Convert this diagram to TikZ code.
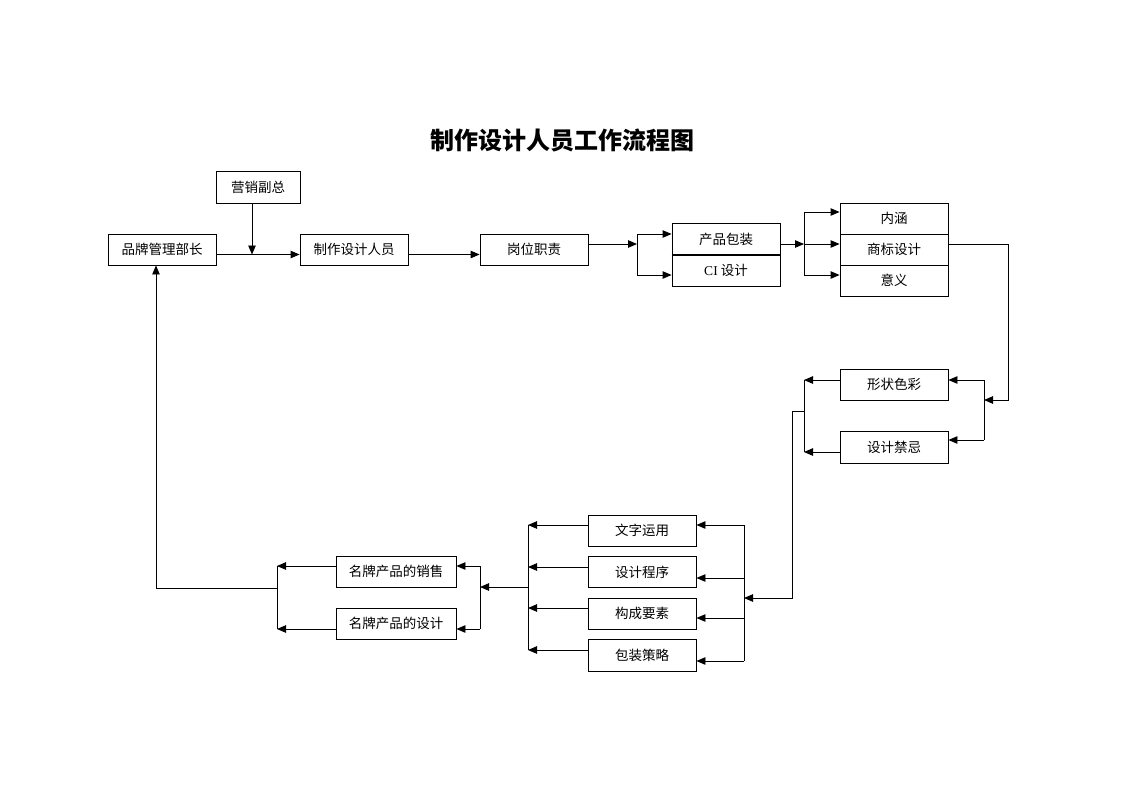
\documentclass[tikz,border=0pt]{standalone}
\usepackage{fontspec}
\setmainfont{Liberation Serif}
\newfontfamily\cjk{Noto Sans CJK SC}
\usetikzlibrary{arrows.meta}
\begin{document}
\begin{tikzpicture}[x=1pt,y=-1pt,
  box/.style={draw,line width=0.9pt,minimum width=108pt,minimum height=31pt,inner sep=0pt,font=\cjk\fontsize{13.5}{14}\selectfont},
  conn/.style={line width=0.9pt},
  arr/.style={conn,-{Triangle[length=9pt,width=7.5pt]}}]
\useasboundingbox (0,0) rectangle (1122,793);
% title
\node[font=\cjk\bfseries\fontsize{24}{24}\selectfont] (title) at (562,140) {制作设计人员工作流程图};
% boxes
\node[box,minimum width=84pt,minimum height=32pt] (yxfz) at (258,187) {营销副总};
\node[box] (ppgl) at (162,249.5) {品牌管理部长};
\node[box] (zzsj) at (354,249.5) {制作设计人员};
\node[box] (gwzz) at (534,249.5) {岗位职责};
\node[box,minimum height=32pt] (cpbz) at (726,239) {产品包装};
\node[box] (ci) at (726,270.5) {{\rmfamily CI} 设计};
\draw[line width=2pt] (cpbz.south west) -- (cpbz.south east);
\node[box] (nh) at (894,218.5) {内涵};
\node[box] (sbsj) at (894,249.5) {商标设计};
\node[box] (yy) at (894,280.5) {意义};
\node[box] (xzsc) at (894,384.5) {形状色彩};
\node[box,minimum height=32pt] (sjjj) at (894,447) {设计禁忌};
\node[box] (wzyy) at (642,530.5) {文字运用};
\node[box] (sjcx) at (642,572) {设计程序};
\node[box] (cgys) at (642,613.5) {构成要素};
\node[box,minimum height=32pt] (bzcl) at (642,655) {包装策略};
\node[box,minimum width=120pt] (mpxs) at (396,571.5) {名牌产品的销售};
\node[box,minimum width=120pt] (mpsj) at (396,623.5) {名牌产品的设计};
% top row
\coordinate (j1) at (252,254.5);
\draw[arr] ([yshift=-5pt]ppgl.east) -- ([yshift=-5pt]zzsj.west);
\draw[arr] (j1 |- yxfz.south) -- (j1);
\draw[arr] ([yshift=-5pt]zzsj.east) -- ([yshift=-5pt]gwzz.west);
% bracket 1
\coordinate (b1) at (637,244); \coordinate (b1t) at (637,234); \coordinate (b1b) at (637,275);
\draw[arr] (b1 -| gwzz.east) -- (b1);
\draw[conn] (b1t) -- (b1b);
\draw[arr] (b1t) -- (b1t -| cpbz.west);
\draw[arr] (b1b) -- (b1b -| ci.west);
% bracket 2
\coordinate (b2) at (804,244); \coordinate (b2t) at (804,212); \coordinate (b2b) at (804,275);
\draw[arr] (b2 -| cpbz.east) -- (b2);
\draw[conn] (b2t) -- (b2b);
\draw[arr] (b2t) -- (b2t -| nh.west);
\draw[arr] (b2) -- (b2 -| sbsj.west);
\draw[arr] (b2b) -- (b2b -| yy.west);
% right side
\coordinate (r1) at (1008,244); \coordinate (r2) at (1008,400);
\coordinate (b3) at (984,400); \coordinate (b3t) at (984,380); \coordinate (b3b) at (984,440);
\draw[arr] (r1 -| sbsj.east) -- (r1) -- (r2) -- (b3);
\draw[conn] (b3t) -- (b3b);
\draw[arr] (b3t) -- (b3t -| xzsc.east);
\draw[arr] (b3b) -- (b3b -| sjjj.east);
% left of shape/taboo
\coordinate (b4t) at (804,380); \coordinate (b4b) at (804,452); \coordinate (b4) at (804,411);
\coordinate (d1) at (792,411); \coordinate (d2) at (792,598);
\draw[arr] (b4t -| xzsc.west) -- (b4t);
\draw[arr] (b4b -| sjjj.west) -- (b4b);
\draw[conn] (b4t) -- (b4b);
% bracket 5
\coordinate (b5) at (744,598);
\coordinate (b5a) at (744,525); \coordinate (b5b) at (744,578);
\coordinate (b5c) at (744,618); \coordinate (b5d) at (744,661);
\draw[arr] (b4) -- (d1) -- (d2) -- (b5);
\draw[conn] (b5a) -- (b5d);
\draw[arr] (b5a) -- (b5a -| wzyy.east);
\draw[arr] (b5b) -- (b5b -| sjcx.east);
\draw[arr] (b5c) -- (b5c -| cgys.east);
\draw[arr] (b5d) -- (b5d -| bzcl.east);
% bracket 6
\coordinate (b6) at (528,587);
\coordinate (b6a) at (528,525); \coordinate (b6b) at (528,567);
\coordinate (b6c) at (528,608); \coordinate (b6d) at (528,650);
\draw[arr] (b6a -| wzyy.west) -- (b6a);
\draw[arr] (b6b -| sjcx.west) -- (b6b);
\draw[arr] (b6c -| cgys.west) -- (b6c);
\draw[arr] (b6d -| bzcl.west) -- (b6d);
\draw[conn] (b6a) -- (b6d);
% bracket 7
\coordinate (b7) at (480,587); \coordinate (b7t) at (480,566); \coordinate (b7b) at (480,629);
\draw[arr] (b6) -- (b7);
\draw[conn] (b7t) -- (b7b);
\draw[arr] (b7t) -- (b7t -| mpxs.east);
\draw[arr] (b7b) -- (b7b -| mpsj.east);
% bracket 8 and return
\coordinate (b8) at (277,588); \coordinate (b8t) at (277,566); \coordinate (b8b) at (277,629);
\coordinate (l1) at (156,588);
\draw[arr] (b8t -| mpxs.west) -- (b8t);
\draw[arr] (b8b -| mpsj.west) -- (b8b);
\draw[conn] (b8t) -- (b8b);
\draw[arr] (b8) -- (l1) -- (l1 |- ppgl.south);
\end{tikzpicture}
\end{document}
